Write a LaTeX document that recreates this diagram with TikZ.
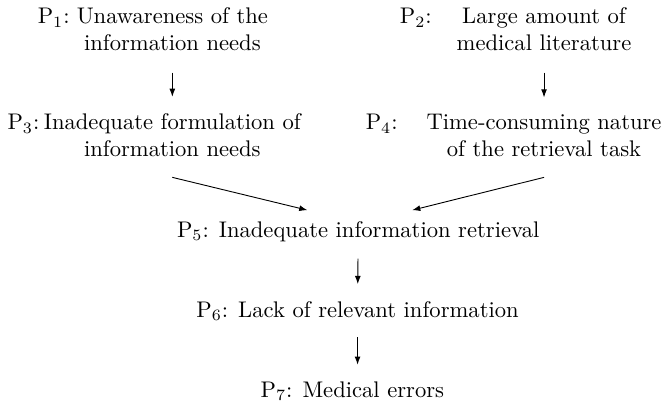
\documentclass[tikz,border=0pt]{standalone}
\usetikzlibrary{arrows.meta, positioning, calc}

\begin{document}
\begin{tikzpicture}[
    txt/.style={align=center, anchor=base},
    lbl/.style={anchor=base east, inner sep=0pt},
    arr/.style={-{Latex[length=3.6pt, width=2.6pt]}, shorten <=4pt, shorten >=4pt},
    slant/.style={-{Latex[length=3.6pt, width=2.6pt]}}]

  \useasboundingbox (0,0) rectangle (10.31,-6.27);

  % top row (nodes sit on their last line)
  \node[txt] (p1) at (2.68,-0.79) {Unawareness of the\\information needs};
  \node[lbl] (l1) at (1.09,-0.37) {P$_1$:};
  \node[txt] (p2) at (8.46,-0.79) {Large amount of\\medical literature};
  \node[lbl] (l2) at (6.72,-0.37) {P$_2$:};

  % second row
  \node[txt] (p3) at (2.68,-2.44) {Inadequate formulation of\\information needs};
  \node[lbl] (l3) at (0.62,-2.02) {P$_3$:};
  \node[txt] (p4) at (8.46,-2.44) {Time-consuming nature\\of the retrieval task};
  \node[lbl] (l4) at (6.19,-2.02) {P$_4$:};

  % middle column
  \node[txt] (p5) at (5.57,-3.69) {P$_5$: Inadequate information retrieval};
  \node[txt] (p6) at (5.56,-4.93) {P$_6$: Lack of relevant information};
  \node[txt] (p7) at (5.48,-6.18) {P$_7$: Medical errors};

  \draw[arr, shorten <=6pt] (p1) -- (p3);
  \draw[arr, shorten <=6pt] (p2) -- (p4);
  \draw[slant] ([yshift=-0.19cm]p3.south) -- ([shift={(-0.79cm,0.05cm)}]p5.north);
  \draw[slant] ([yshift=-0.19cm]p4.south) -- ([shift={(0.84cm,0.05cm)}]p5.north);
  \draw[arr] (p5) -- (p6);
  \draw[arr] (p6) -- (p6 |- p7.north);

\end{tikzpicture}
\end{document}
